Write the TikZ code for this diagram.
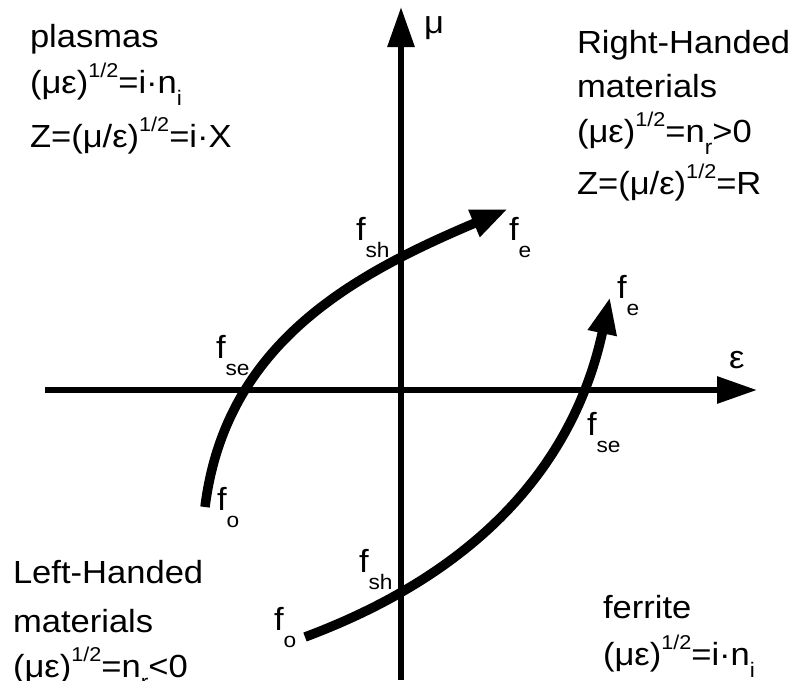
\documentclass[tikz,border=0pt]{standalone}
\usepackage{fontspec}
\setmainfont{Liberation Sans}[FakeStretch=1.08]
\usetikzlibrary{arrows.meta}
\newcommand{\lowsub}[1]{\raisebox{-12pt}{\fontsize{21}{21}\selectfont #1}}
\newcommand{\highsup}[1]{\raisebox{16pt}{\fontsize{20}{20}\selectfont #1}}
\newcommand{\flab}[1]{f\raisebox{-17pt}{\fontsize{21}{21}\selectfont #1}}
\begin{document}
\begin{tikzpicture}[x=1pt,y=-1pt,
  txt/.style={anchor=base west,inner sep=0pt,outer sep=0pt,font=\fontsize{32}{38}\selectfont},
  axis/.style={line width=6pt,-{Triangle[length=40pt,width=26pt]}},
  curve/.style={line width=9.5pt,-{Triangle[length=37pt,width=27pt]}}]
\useasboundingbox (0,0) rectangle (797,680);
% axes
\coordinate (xl) at (45,390);
\coordinate (xr) at (757,390);
\coordinate (yb) at (401,680);
\coordinate (yt) at (401,7);
\draw[axis] (xl) -- (xr);
\draw[axis] (yb) -- (yt);
\node[txt] (mu) at (424,33) {μ};
\node[txt] (eps) at (729,368) {ε};
% curves
\coordinate (c1s) at (205,507);
\coordinate (c1e) at (508,209);
\coordinate (c2s) at (305,637);
\coordinate (c2e) at (610,297);
\draw[curve] (c1s) .. controls (225.5,343.6) and (352,275) .. (c1e);
\draw[curve] (c2s) .. controls (479,572) and (574,464) .. (c2e);
% curve labels
\node[txt] (use) at (216,358) {\flab{se}};
\node[txt] (ush) at (356,240) {\flab{sh}};
\node[txt] (ue)  at (509,240) {\flab{e}};
\node[txt] (uo)  at (217,510) {\flab{o}};
\node[txt] (le)  at (617,298) {\flab{e}};
\node[txt] (lse) at (587,435) {\flab{se}};
\node[txt] (lsh) at (359,572) {\flab{sh}};
\node[txt] (lo)  at (274,630) {\flab{o}};
% quadrant texts
\node[txt] (pl1) at (30,47) {plasmas};
\node[txt] (pl2) at (30,93) {(με)\highsup{1/2}=i·n\lowsub{i}};
\node[txt] (pl3) at (30,147) {Z=(μ/ε)\highsup{1/2}=i·X};
\node[txt] (rh1) at (577,53) {Right-Handed};
\node[txt] (rh2) at (577,97) {materials};
\node[txt] (rh3) at (577,142) {(με)\highsup{1/2}=n\lowsub{r}>0};
\node[txt] (rh4) at (577,194) {Z=(μ/ε)\highsup{1/2}=R};
\node[txt] (lh1) at (13,583) {Left-Handed};
\node[txt] (lh2) at (13,632) {materials};
\node[txt] (lh3) at (13,677) {(με)\highsup{1/2}=n\lowsub{r}<0};
\node[txt] (fe1) at (603,618) {ferrite};
\node[txt] (fe2) at (603,665) {(με)\highsup{1/2}=i·n\lowsub{i}};
\end{tikzpicture}
\end{document}
